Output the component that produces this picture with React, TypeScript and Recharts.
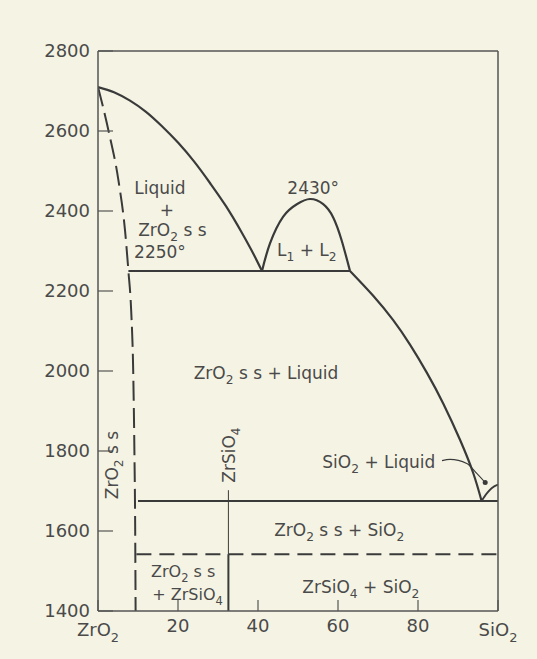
import React from "react";
import { ComposedChart, Line, XAxis, YAxis, ReferenceDot } from "recharts";

// ---- axis ticks ----
const xTicks = [0, 20, 40, 60, 80, 100];
const xTopTicks = [20, 40, 60, 80];
const yTicks = [1400, 1600, 1800, 2000, 2200, 2400, 2600, 2800];
const yRightTicks = [1600, 1800, 2000, 2200, 2400, 2600];
const xEndLabels: Record<number, string> = { 0: "ZrO_2", 100: "SiO_2" };

// ---- phase boundaries (x = wt% SiO2, T = °C) ----
const liquidusZrO2 = [
  { x: 0, T: 2710 },
  { x: 4, T: 2697 },
  { x: 8, T: 2676 },
  { x: 12, T: 2648 },
  { x: 16, T: 2612 },
  { x: 20, T: 2571 },
  { x: 24, T: 2524 },
  { x: 28, T: 2470 },
  { x: 32, T: 2412 },
  { x: 36, T: 2345 },
  { x: 39, T: 2290 },
  { x: 41, T: 2250 },
];
const solidusZrO2 = [
  { x: 0, T: 2710 },
  { x: 2.6, T: 2602 },
  { x: 5.1, T: 2477 },
  { x: 6.75, T: 2352 },
  { x: 7.6, T: 2250 },
  { x: 8.3, T: 2150 },
  { x: 8.8, T: 2000 },
  { x: 9.1, T: 1800 },
  { x: 9.3, T: 1600 },
  { x: 9.4, T: 1400 },
];
const miscibilityGap = [
  { x: 41, T: 2250 },
  { x: 43, T: 2319 },
  { x: 46.3, T: 2386 },
  { x: 49.7, T: 2417 },
  { x: 53, T: 2430 },
  { x: 56.3, T: 2417 },
  { x: 58.8, T: 2384 },
  { x: 60.9, T: 2327 },
  { x: 63, T: 2250 },
];
const liquidusSiO2Side = [
  { x: 63, T: 2250 },
  { x: 68.8, T: 2188 },
  { x: 73.8, T: 2127 },
  { x: 78, T: 2066 },
  { x: 82.2, T: 1996 },
  { x: 86.3, T: 1919 },
  { x: 90.5, T: 1828 },
  { x: 93.8, T: 1745 },
  { x: 95.9, T: 1675 },
];
const cristobaliteLiquidus = [
  { x: 95.9, T: 1675 },
  { x: 97.2, T: 1694 },
  { x: 98.4, T: 1707 },
  { x: 100, T: 1716 },
];
const monotecticLine = [
  { x: 7.6, T: 2250 },
  { x: 63, T: 2250 },
];
const eutecticLine = [
  { x: 10, T: 1675 },
  { x: 100, T: 1675 },
];
const zirconLine = [
  { x: 9.6, T: 1542 },
  { x: 100, T: 1542 },
];
const zirconSolid = [
  { x: 32.6, T: 1400 },
  { x: 32.6, T: 1542 },
];
const zirconThin = [
  { x: 32.6, T: 1542 },
  { x: 32.6, T: 1702 },
];
const leaderLine = [
  { x: 86, T: 1776 },
  { x: 88, T: 1779 },
  { x: 92.2, T: 1769 },
  { x: 94.7, T: 1744 },
  { x: 96.8, T: 1721 },
];
const leaderDot = { x: 96.8, T: 1721 };

// ---- region labels ----
const regionLabels = [
  { x: 15.5, T: 2457, text: "Liquid", rotate: 0, size: 17 },
  { x: 17.2, T: 2402, text: "+", rotate: 0, size: 17 },
  { x: 18.6, T: 2354, text: "ZrO_2 s s", rotate: 0, size: 17 },
  { x: 15.5, T: 2297, text: "2250°", rotate: 0, size: 17 },
  { x: 53.8, T: 2457, text: "2430°", rotate: 0, size: 17 },
  { x: 52.2, T: 2302, text: "L_1 + L_2", rotate: 0, size: 17 },
  { x: 42, T: 1996, text: "ZrO_2 s s + Liquid", rotate: 0, size: 17 },
  { x: 3.4, T: 1765, text: "ZrO_2 s s", rotate: -90, size: 17 },
  { x: 32.6, T: 1790, text: "ZrSiO_4", rotate: -90, size: 17 },
  { x: 70.2, T: 1773, text: "SiO_2 + Liquid", rotate: 0, size: 17 },
  { x: 60.3, T: 1602, text: "ZrO_2 s s + SiO_2", rotate: 0, size: 17 },
  { x: 65.7, T: 1461, text: "ZrSiO_4 + SiO_2", rotate: 0, size: 17 },
  { x: 21.3, T: 1499, text: "ZrO_2 s s", rotate: 0, size: 16 },
  { x: 22.4, T: 1442, text: "+ ZrSiO_4", rotate: 0, size: 16 },
];

const INK = "#3a3a3a";
const TEXT = "#4a4a4a";
const FONT = "'DejaVu Sans', sans-serif";

function parseParts(s: string) {
  const parts: { t: string; sub: boolean }[] = [];
  let buf = "";
  let i = 0;
  while (i < s.length) {
    if (s[i] === "_") {
      if (buf) parts.push({ t: buf, sub: false });
      buf = "";
      parts.push({ t: s[i + 1], sub: true });
      i += 2;
    } else {
      buf += s[i];
      i += 1;
    }
  }
  if (buf) parts.push({ t: buf, sub: false });
  return parts;
}

function RichText({ x, y, text, size = 17, rotate = 0, anchor = "middle" }: any) {
  const parts = parseParts(text);
  const by = y + size * 0.36;
  let prevSub = false;
  return (
    <text
      x={x}
      y={by}
      textAnchor={anchor}
      fontSize={size}
      fontFamily={FONT}
      fill={TEXT}
      style={{ whiteSpace: "pre" }}
      transform={rotate ? `rotate(${rotate} ${x} ${y})` : undefined}
    >
      {parts.map((p, i) => {
        let dy = 0;
        if (p.sub && !prevSub) dy = size * 0.3;
        if (!p.sub && prevSub) dy = -size * 0.3;
        prevSub = p.sub;
        return (
          <tspan key={i} dy={dy} fontSize={p.sub ? size * 0.72 : size}>
            {p.t}
          </tspan>
        );
      })}
    </text>
  );
}

function BottomTick(props: any) {
  const { x, y, payload } = props;
  const v = payload.value;
  const label = xEndLabels[v];
  if (label) {
    return <RichText x={x} y={y + 19} text={label} size={18} />;
  }
  return <RichText x={x} y={y + 15} text={String(v)} size={18} />;
}

const lineCommon = {
  dataKey: "T",
  dot: false,
  activeDot: false,
  isAnimationActive: false,
  legendType: "none" as const,
};

export default function App() {
  return (
    <div
      style={{
        position: "fixed",
        left: 0,
        top: 0,
        width: 537,
        height: 659,
        background: "#f5f4e4",
      }}
    >
      <ComposedChart
        width={537}
        height={659}
        margin={{ top: 41, right: 29, bottom: 8, left: 0 }}
      >
        <XAxis
          xAxisId={0}
          dataKey="x"
          type="number"
          domain={[0, 100]}
          ticks={xTicks}
          interval={0}
          allowDataOverflow
          height={40}
          tickSize={-11}
          tickMargin={11}
          axisLine={{ stroke: "#555", strokeWidth: 1.5 }}
          tickLine={{ stroke: "#555", strokeWidth: 1.2 }}
          tick={<BottomTick />}
        />
        <XAxis
          xAxisId="top"
          orientation="top"
          type="number"
          domain={[0, 100]}
          ticks={xTopTicks}
          interval={0}
          allowDataOverflow
          height={10}
          tickSize={-15}
          tick={false}
          axisLine={{ stroke: "#555", strokeWidth: 1.5 }}
          tickLine={{ stroke: "#555", strokeWidth: 1.2 }}
        />
        <YAxis
          yAxisId={0}
          type="number"
          domain={[1400, 2800]}
          ticks={yTicks}
          interval={0}
          allowDataOverflow
          width={98}
          tickSize={-15}
          tickMargin={23}
          axisLine={{ stroke: "#555", strokeWidth: 1.5 }}
          tickLine={{ stroke: "#555", strokeWidth: 1.2 }}
          tick={{ fontSize: 18, fontFamily: FONT, fill: TEXT }}
        />
        <YAxis
          yAxisId="right"
          orientation="right"
          type="number"
          domain={[1400, 2800]}
          ticks={yRightTicks}
          interval={0}
          allowDataOverflow
          width={10}
          tickSize={-16}
          tick={false}
          axisLine={{ stroke: "#555", strokeWidth: 1.5 }}
          tickLine={{ stroke: "#555", strokeWidth: 1.2 }}
        />

        <Line {...lineCommon} data={liquidusZrO2} type="monotone" stroke={INK} strokeWidth={2.2} />
        <Line {...lineCommon} data={solidusZrO2} type="monotone" stroke={INK} strokeWidth={2} strokeDasharray="20 7" />
        <Line {...lineCommon} data={miscibilityGap} type="natural" stroke={INK} strokeWidth={2.2} />
        <Line {...lineCommon} data={liquidusSiO2Side} type="natural" stroke={INK} strokeWidth={2.2} />
        <Line {...lineCommon} data={cristobaliteLiquidus} type="monotone" stroke={INK} strokeWidth={1.8} />
        <Line {...lineCommon} data={monotecticLine} type="linear" stroke={INK} strokeWidth={2.2} />
        <Line {...lineCommon} data={eutecticLine} type="linear" stroke={INK} strokeWidth={2.2} />
        <Line {...lineCommon} data={zirconLine} type="linear" stroke={INK} strokeWidth={2} strokeDasharray="15 8" />
        <Line {...lineCommon} data={zirconSolid} type="linear" stroke={INK} strokeWidth={2} />
        <Line {...lineCommon} data={zirconThin} type="linear" stroke={INK} strokeWidth={1} />
        <Line {...lineCommon} data={leaderLine} type="monotone" stroke={INK} strokeWidth={1.1} />
        <ReferenceDot x={leaderDot.x} y={leaderDot.T} r={2.5} fill={INK} stroke="none" />

        {regionLabels.map((l, i) => (
          <ReferenceDot
            key={i}
            x={l.x}
            y={l.T}
            r={1}
            shape={(p: any) => (
              <RichText x={p.cx} y={p.cy} text={l.text} size={l.size} rotate={l.rotate} />
            )}
          />
        ))}
      </ComposedChart>
    </div>
  );
}
